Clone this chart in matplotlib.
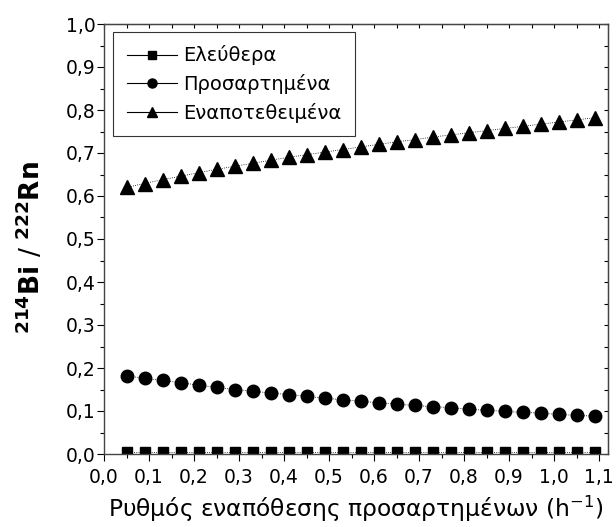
import matplotlib
matplotlib.use('Agg')
import matplotlib.pyplot as plt
from matplotlib.ticker import MultipleLocator, FuncFormatter
from matplotlib.lines import Line2D

plt.rcParams['font.family'] = ['DejaVu Sans']
plt.rcParams['mathtext.fontset'] = 'dejavusans'

# Ρυθμός εναπόθεσης (h^-1)
x = [0.05, 0.09, 0.13, 0.17, 0.21, 0.25, 0.29, 0.33, 0.37, 0.41, 0.45, 0.49, 0.53, 0.57,
     0.61, 0.65, 0.69, 0.73, 0.77, 0.81, 0.85, 0.89, 0.93, 0.97, 1.01, 1.05, 1.09]

eleuthera = [0.005] * 27
prosartimena = [0.182, 0.176, 0.171, 0.166, 0.160, 0.155, 0.150, 0.146, 0.142, 0.138,
                0.134, 0.130, 0.126, 0.123, 0.119, 0.116, 0.113, 0.110, 0.108, 0.104,
                0.102, 0.099, 0.097, 0.095, 0.092, 0.090, 0.088]
enapotetheimena = [0.620, 0.629, 0.638, 0.646, 0.654, 0.662, 0.669, 0.676, 0.683, 0.690,
                   0.696, 0.702, 0.708, 0.714, 0.720, 0.726, 0.731, 0.737, 0.742, 0.747,
                   0.752, 0.757, 0.762, 0.767, 0.772, 0.777, 0.782]

labels = ['Ελεύθερα', 'Προσαρτημένα', 'Εναποτεθειμένα']

fig = plt.figure(figsize=(6.16, 5.27), dpi=100)
ax = fig.add_axes([104 / 616, 1 - 454 / 527, 504 / 616, 430 / 527])

ax.plot(x, eleuthera, color='black', ls=':', lw=0.6, marker='s', ms=7.2)
ax.plot(x, prosartimena, color='black', ls=':', lw=0.6, marker='o', ms=9)
ax.plot(x, enapotetheimena, color='black', ls=':', lw=0.6, marker='^', ms=10.5)

ax.set_xlim(0, 1.12)
ax.set_ylim(0, 1.0)

# δεκαδική υποδιαστολή με κόμμα
comma = FuncFormatter(lambda v, p: f'{v:.1f}'.replace('.', ','))
ax.xaxis.set_major_locator(MultipleLocator(0.1))
ax.xaxis.set_minor_locator(MultipleLocator(0.05))
ax.yaxis.set_major_locator(MultipleLocator(0.1))
ax.yaxis.set_minor_locator(MultipleLocator(0.05))
ax.xaxis.set_major_formatter(comma)
ax.yaxis.set_major_formatter(comma)
ax.tick_params(which='major', direction='out', length=5, width=0.8, labelsize=13.5, pad=1)
ax.tick_params(which='minor', direction='out', length=3, width=0.8)
ax.tick_params(axis='x', which='major', pad=5)

# γραμμές υποδιαίρεσης πάνω και δεξιά, προς τα μέσα
top = ax.secondary_xaxis('top')
top.xaxis.set_major_locator(MultipleLocator(0.05))
top.tick_params(direction='in', length=3, width=0.8, labeltop=False)
right = ax.secondary_yaxis('right')
right.yaxis.set_major_locator(MultipleLocator(0.05))
right.tick_params(direction='in', length=3, width=0.8, labelright=False)

for s in ax.spines.values():
    s.set_color('#444444')
    s.set_linewidth(1.0)

ax.set_xlabel(r'Ρυθμός εναπόθεσης προσαρτημένων (h$^{-1}$)', fontsize=16.8, labelpad=5)
ax.set_ylabel(r'$\mathbf{^{214}Bi}$ / $\mathbf{^{222}Rn}$', fontsize=19)
ax.yaxis.set_label_coords(-0.115, 0.481)

handles = [Line2D([], [], color='black', lw=0.8, marker=m, ms=s)
           for m, s in zip(['s', 'o', '^'], [6, 6.5, 7.5])]
leg = ax.legend(handles, labels, loc='upper left', bbox_to_anchor=(0.018, 0.982),
                fontsize=14, frameon=True, fancybox=False, edgecolor='black',
                handlelength=2.6, handletextpad=0.3, labelspacing=0.45,
                borderpad=0.7, borderaxespad=0)
leg.get_frame().set_linewidth(0.8)

fig.savefig('out.png', dpi=100)
